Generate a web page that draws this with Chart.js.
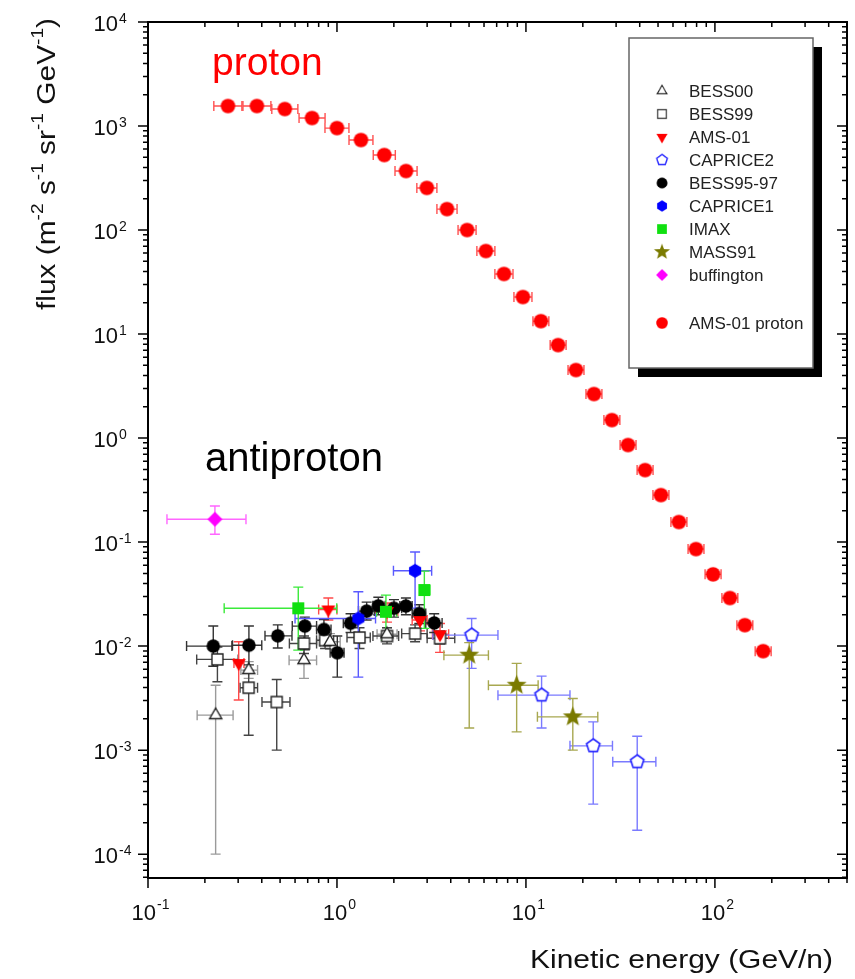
<!DOCTYPE html>
<html>
<head>
<meta charset="utf-8">
<script src="https://cdn.jsdelivr.net/npm/chart.js@4.4.0/dist/chart.umd.min.js"></script>
<style>
  html, body { margin: 0; padding: 0; background: #fff; }
  #wrap { width: 855px; height: 979px; position: relative; }
</style>
</head>
<body>
<div id="wrap"><canvas id="chart"></canvas></div>
<script>
// AMS-01 proton flux (GeV/n, m^-2 s^-1 sr^-1 GeV^-1)
const protonE = [0.265, 0.377, 0.53, 0.738, 1.0, 1.34, 1.78, 2.32, 2.99, 3.82, 4.88, 6.14, 7.65, 9.64,
  12.0, 14.8, 18.4, 22.9, 28.5, 34.7, 42.7, 51.8, 64.5, 79.4, 97.8, 120, 144, 180];
const protonFlux = [1556, 1556, 1456, 1194, 955, 733, 526, 369, 254, 159, 100, 62.8, 37.8, 22.7,
  13.3, 7.83, 4.51, 2.65, 1.49, 0.857, 0.492, 0.283, 0.156, 0.0857, 0.049, 0.029, 0.0159, 0.00895];
const protonELo = [0.223, 0.318, 0.452, 0.630, 0.864, 1.158, 1.556, 2.028, 2.646, 3.38, 4.373, 5.50, 6.85, 8.64,
  10.89, 13.43, 16.70, 20.78, 25.86, 31.49, 38.75, 47.0, 58.5, 72.1, 88.7, 108.9, 130.7, 163.3];
const protonEHi = [0.314, 0.447, 0.621, 0.865, 1.157, 1.55, 2.036, 2.654, 3.379, 4.32, 5.446, 6.85, 8.54, 10.76,
  13.22, 16.31, 20.28, 25.24, 31.41, 38.24, 47.06, 57.1, 71.1, 87.5, 107.8, 132.2, 158.7, 198.4];

// antiproton points: [E, flux, E low, E high, flux low, flux high]
const bess00 = [
  [0.228, 0.00217, 0.182, 0.282, 0.0001, 0.0042],
  [0.341, 0.00588, 0.310, 0.380, 0.0049, 0.0071],
  [0.669, 0.00733, 0.558, 0.780, 0.0049, 0.0096],
  [0.918, 0.0110, 0.813, 1.04, 0.0093, 0.0132],
  [1.84, 0.0130, 1.63, 2.08, 0.0112, 0.0150]
];
const bess99 = [
  [0.233, 0.00745, 0.181, 0.300, 0.00454, 0.0098],
  [0.341, 0.00398, 0.307, 0.380, 0.00139, 0.0058],
  [0.480, 0.0029, 0.401, 0.564, 0.0010, 0.00478],
  [0.669, 0.0106, 0.56, 0.78, 0.0085, 0.0125],
  [0.865, 0.0114, 0.78, 0.96, 0.0095, 0.0135],
  [1.316, 0.0121, 1.13, 1.50, 0.0095, 0.0150],
  [1.84, 0.0125, 1.55, 2.12, 0.0105, 0.0150],
  [2.59, 0.0132, 2.2, 3.0, 0.011, 0.016],
  [3.51, 0.0119, 3.0, 4.2, 0.0105, 0.014]
];
const ams01 = [
  [0.302, 0.00687, 0.285, 0.322, 0.00303, 0.0110],
  [0.90, 0.0225, 0.80, 1.0, 0.0178, 0.0290],
  [1.84, 0.0217, 1.6, 2.1, 0.0170, 0.026],
  [2.75, 0.0178, 2.5, 3.0, 0.014, 0.022],
  [3.51, 0.0130, 3.2, 3.9, 0.0087, 0.0165]
];
const caprice2 = [
  [5.16, 0.01276, 3.22, 7.11, 0.00611, 0.01845],
  [12.1, 0.00338, 7.11, 17.1, 0.00163, 0.00515],
  [22.7, 0.0011, 17.1, 28.7, 0.000303, 0.00187],
  [38.8, 0.000773, 28.8, 48.7, 0.00017, 0.00136]
];
const bess9597 = [
  [0.2215, 0.0100, 0.16, 0.278, 0.0064, 0.0156],
  [0.342, 0.0102, 0.28, 0.40, 0.0066, 0.0156],
  [0.486, 0.01256, 0.416, 0.578, 0.0096, 0.0160],
  [0.676, 0.01557, 0.58, 0.78, 0.0092, 0.0190],
  [0.853, 0.01445, 0.78, 0.93, 0.0115, 0.018],
  [1.004, 0.00863, 0.92, 1.09, 0.00504, 0.0125],
  [1.18, 0.0166, 1.08, 1.29, 0.0135, 0.0205],
  [1.436, 0.0217, 1.30, 1.58, 0.0178, 0.0265],
  [1.655, 0.0244, 1.55, 1.80, 0.020, 0.0295],
  [2.003, 0.0231, 1.80, 2.20, 0.019, 0.028],
  [2.317, 0.0243, 2.15, 2.50, 0.020, 0.029],
  [2.727, 0.0206, 2.50, 2.95, 0.0165, 0.025],
  [3.27, 0.0167, 2.95, 3.60, 0.0135, 0.0205]
];
const caprice1 = [
  [1.297, 0.01845, 0.60, 1.60, 0.00504, 0.0333],
  [2.59, 0.053, 1.99, 3.17, 0.0232, 0.0802]
];
const imax = [
  [0.624, 0.0231, 0.253, 0.997, 0.00916, 0.0369],
  [1.816, 0.0214, 1.62, 2.07, 0.0114, 0.0309],
  [2.90, 0.0346, 2.75, 3.10, 0.0148, 0.0526]
];
const mass91 = [
  [5.01, 0.00819, 3.68, 6.33, 0.00163, 0.0108],
  [8.93, 0.00421, 6.33, 11.6, 0.0015, 0.00683],
  [17.7, 0.00209, 11.5, 24.0, 0.0010, 0.00314]
];
const buffington = [
  [0.226, 0.166, 0.126, 0.330, 0.119, 0.222]
];

// axes
const xMin = 0.1, xMax = 500;
const yMin = 5.9e-5, yMax = 1e4;
const xTickPowers = [-1, 0, 1, 2];
const yTickPowers = [-4, -3, -2, -1, 0, 1, 2, 3, 4];

const FONT = '"Liberation Sans", Arial, sans-serif';

// marker images
function makeMarker(shape, size, fill, stroke, lw) {
  const d = Math.ceil(size + 4);
  const c = document.createElement('canvas');
  c.width = d; c.height = d;
  const g = c.getContext('2d');
  const cx = d / 2, cy = d / 2, r = size / 2;
  const poly = (n, r0, startDeg) => {
    for (let i = 0; i < n; i++) {
      const a = (startDeg + i * 360 / n) * Math.PI / 180;
      const px = cx + r0 * Math.cos(a), py = cy + r0 * Math.sin(a);
      if (i === 0) g.moveTo(px, py); else g.lineTo(px, py);
    }
  };
  g.beginPath();
  if (shape === 'circle') g.arc(cx, cy, r, 0, Math.PI * 2);
  else if (shape === 'square') g.rect(cx - r, cy - r, 2 * r, 2 * r);
  else if (shape === 'diamond') poly(4, r, -90);
  else if (shape === 'triangle') poly(3, r, -90);
  else if (shape === 'invtriangle') poly(3, r, 90);
  else if (shape === 'pentagon') poly(5, r, -90);
  else if (shape === 'hexagon') poly(6, r, -90);
  else if (shape === 'star') {
    for (let i = 0; i < 10; i++) {
      const a = (-90 + i * 36) * Math.PI / 180;
      const rr = i % 2 === 0 ? r : r * 0.42;
      const px = cx + rr * Math.cos(a), py = cy + rr * Math.sin(a);
      if (i === 0) g.moveTo(px, py); else g.lineTo(px, py);
    }
  }
  g.closePath();
  if (fill) { g.fillStyle = fill; g.fill(); }
  if (stroke) { g.lineWidth = lw; g.strokeStyle = stroke; g.stroke(); }
  return c;
}

function toDataset(label, rows, marker, barColor, order) {
  return {
    label: label,
    data: rows.map(r => ({ x: r[0], y: r[1] })),
    errors: rows.map(r => r.slice(2)),
    pointStyle: marker,
    pointRadius: 6,
    barColor: barColor,
    order: order
  };
}

const protonRows = protonE.map((e, i) => [e, protonFlux[i], protonELo[i], protonEHi[i], null, null]);

const datasets = [
  toDataset('BESS00', bess00, makeMarker('triangle', 14, '#fff', '#222', 1.4), '#9a9a9a', 7),
  toDataset('BESS99', bess99, makeMarker('square', 11, '#fff', '#222', 1.4), '#444', 8),
  toDataset('AMS-01', ams01, makeMarker('invtriangle', 16, '#ff0000', null, 0), '#ff4a4a', 4),
  toDataset('CAPRICE2', caprice2, makeMarker('pentagon', 14, '#fff', '#2a2aff', 1.7), '#7a7aff', 5),
  toDataset('BESS95-97', bess9597, makeMarker('circle', 13.5, '#000', null, 0), '#333', 6),
  toDataset('CAPRICE1', caprice1, makeMarker('hexagon', 14, '#0000ff', null, 0), '#5a5aff', 3),
  toDataset('IMAX', imax, makeMarker('square', 12, '#10e010', null, 0), '#3aea3a', 2),
  toDataset('MASS91', mass91, makeMarker('star', 21, '#7a7a00', null, 0), '#a8a850', 1),
  toDataset('buffington', buffington, makeMarker('diamond', 15, '#ff00ff', null, 0), '#ff66ff', 1),
  toDataset('AMS-01 proton', protonRows, makeMarker('circle', 14.5, '#ff0000', null, 0), '#ff5050', 1)
];

// error bars, drawn under the markers
const errorBarPlugin = {
  id: 'errorBars',
  beforeDatasetsDraw(chart) {
    const ctx = chart.ctx, xs = chart.scales.x, ys = chart.scales.y;
    const cap = 5;
    chart.data.datasets.forEach(ds => {
      ctx.save();
      ctx.strokeStyle = ds.barColor;
      ctx.lineWidth = 1.4;
      ds.errors.forEach((e, i) => {
        const p = ds.data[i];
        const px = xs.getPixelForValue(p.x), py = ys.getPixelForValue(p.y);
        ctx.beginPath();
        if (e[0] != null) {
          const x1 = xs.getPixelForValue(e[0]), x2 = xs.getPixelForValue(e[1]);
          ctx.moveTo(x1, py); ctx.lineTo(x2, py);
          ctx.moveTo(x1, py - cap); ctx.lineTo(x1, py + cap);
          ctx.moveTo(x2, py - cap); ctx.lineTo(x2, py + cap);
        }
        if (e[2] != null) {
          const y1 = ys.getPixelForValue(e[2]), y2 = ys.getPixelForValue(e[3]);
          ctx.moveTo(px, y1); ctx.lineTo(px, y2);
          ctx.moveTo(px - cap, y1); ctx.lineTo(px + cap, y1);
          ctx.moveTo(px - cap, y2); ctx.lineTo(px + cap, y2);
        }
        ctx.stroke();
      });
      ctx.restore();
    });
  }
};

// frame, ticks, labels, titles and legend box
function minorValues(min, max) {
  const out = [];
  for (let p = Math.floor(Math.log10(min)); p <= Math.ceil(Math.log10(max)); p++) {
    for (let m = 1; m <= 9; m++) {
      const v = m * Math.pow(10, p);
      if (v >= min * 0.999 && v <= max * 1.001) out.push({ v: v, major: m === 1 });
    }
  }
  return out;
}

function powerLabel(ctx, p, x, y, mode) {
  const base = '10', sup = String(p);
  ctx.font = '22px ' + FONT;
  const wb = ctx.measureText(base).width;
  ctx.font = '14px ' + FONT;
  const ws = ctx.measureText(sup).width;
  let bx, by, sy;
  if (mode === 'x') {
    bx = x - (wb + ws) / 2; by = y; sy = y - 11;
  } else {
    bx = x - wb; by = y + 9; sy = y + 1;
  }
  ctx.font = '22px ' + FONT;
  ctx.fillText(base, bx, by);
  ctx.font = '14px ' + FONT;
  ctx.fillText(sup, bx + wb + 1, sy);
}

const framePlugin = {
  id: 'frame',
  afterDraw(chart) {
    const ctx = chart.ctx, xs = chart.scales.x, ys = chart.scales.y;
    const a = chart.chartArea;
    ctx.save();
    ctx.strokeStyle = '#000';
    ctx.fillStyle = '#000';

    // ticks
    ctx.lineWidth = 1.5;
    ctx.beginPath();
    minorValues(xMin, xMax).forEach(t => {
      const px = xs.getPixelForValue(t.v);
      const len = t.major ? 10 : 5;
      ctx.moveTo(px, a.bottom); ctx.lineTo(px, a.bottom + len);
      ctx.moveTo(px, a.top); ctx.lineTo(px, a.top + len);
    });
    minorValues(yMin, yMax).forEach(t => {
      const py = ys.getPixelForValue(t.v);
      const len = t.major ? 10 : 5;
      ctx.moveTo(a.left, py); ctx.lineTo(a.left - len, py);
      ctx.moveTo(a.right, py); ctx.lineTo(a.right - len, py);
    });
    ctx.stroke();

    // frame
    ctx.lineWidth = 2;
    ctx.strokeRect(a.left, a.top, a.right - a.left, a.bottom - a.top);

    // tick labels
    ctx.textBaseline = 'alphabetic';
    ctx.textAlign = 'left';
    ctx.fillStyle = '#111';
    xTickPowers.forEach(p => powerLabel(ctx, p, xs.getPixelForValue(Math.pow(10, p)) + 2, a.bottom + 42, 'x'));
    yTickPowers.forEach(p => powerLabel(ctx, p, 118, ys.getPixelForValue(Math.pow(10, p)), 'y'));

    // x title
    ctx.font = '26px ' + FONT;
    const xt = 'Kinetic energy (GeV/n)';
    const xw = ctx.measureText(xt).width;
    ctx.save();
    ctx.translate(530, 968);
    ctx.scale(303 / xw, 1);
    ctx.fillText(xt, 0, 0);
    ctx.restore();

    // y title
    const parts = [['flux (m', false], ['-2', true], [' s', false], ['-1', true], [' sr', false],
      ['-1', true], [' GeV', false], ['-1', true], [')', false]];
    let total = 0;
    parts.forEach(pt => {
      ctx.font = (pt[1] ? '16px ' : '25px ') + FONT;
      total += ctx.measureText(pt[0]).width;
    });
    ctx.save();
    ctx.translate(55, 310);
    ctx.rotate(-Math.PI / 2);
    ctx.scale(292 / total, 1);
    let tx = 0;
    parts.forEach(pt => {
      ctx.font = (pt[1] ? '16px ' : '25px ') + FONT;
      ctx.fillText(pt[0], tx, pt[1] ? -12 : 0);
      tx += ctx.measureText(pt[0]).width;
    });
    ctx.restore();

    // annotations
    ctx.fillStyle = '#ff0000';
    ctx.font = '39px ' + FONT;
    ctx.fillText('proton', 212, 75);
    ctx.fillStyle = '#000';
    ctx.font = '40px ' + FONT;
    ctx.fillText('antiproton', 205, 471);

    // legend box with shadow
    ctx.fillStyle = '#000';
    ctx.fillRect(638, 47, 184, 330);
    ctx.fillStyle = '#fff';
    ctx.fillRect(629, 38, 184, 330);
    ctx.strokeStyle = '#666';
    ctx.lineWidth = 1.5;
    ctx.strokeRect(629, 38, 184, 330);

    const rowY = [91, 114, 137, 160, 183, 206, 229, 252, 275, 323];
    ctx.font = '17px ' + FONT;
    ctx.textBaseline = 'middle';
    chart.data.datasets.forEach((ds, i) => {
      const img = ds.pointStyle;
      const s = 0.8;
      ctx.drawImage(img, 662 - img.width * s / 2, rowY[i] - img.height * s / 2, img.width * s, img.height * s);
      ctx.fillStyle = '#222';
      ctx.fillText(ds.label, 689, rowY[i] + 1);
    });
    ctx.restore();
  }
};

new Chart(document.getElementById('chart'), {
  type: 'scatter',
  data: { datasets: datasets },
  options: {
    responsive: true,
    maintainAspectRatio: false,
    animation: false,
    events: [],
    layout: { padding: { left: 148, right: 8, top: 22, bottom: 101 } },
    plugins: { legend: { display: false }, tooltip: { enabled: false } },
    scales: {
      x: { type: 'logarithmic', min: xMin, max: xMax, display: false },
      y: { type: 'logarithmic', min: yMin, max: yMax, display: false }
    }
  },
  plugins: [errorBarPlugin, framePlugin]
});
</script>
</body>
</html>
